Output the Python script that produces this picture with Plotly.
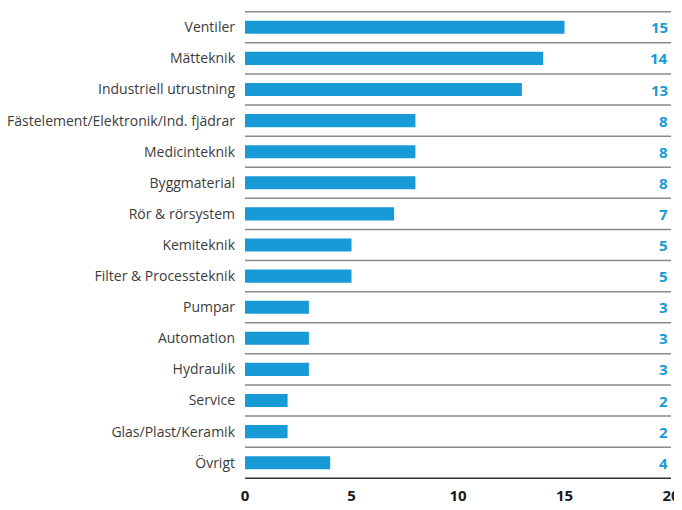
import plotly.graph_objects as go

categories = [
    "Ventiler", "Mätteknik", "Industriell utrustning",
    "Fästelement/Elektronik/Ind. fjädrar", "Medicinteknik", "Byggmaterial",
    "Rör & rörsystem", "Kemiteknik", "Filter & Processteknik", "Pumpar",
    "Automation", "Hydraulik", "Service", "Glas/Plast/Keramik", "Övrigt",
]
values = [15, 14, 13, 8, 8, 8, 7, 5, 5, 3, 3, 3, 2, 2, 4]
x_ticks = [0, 5, 10, 15, 20]

blue = "#189ad6"

fig = go.Figure()
fig.add_trace(go.Bar(
    x=values,
    y=categories,
    orientation="h",
    marker=dict(color=blue, line=dict(width=0)),
    width=0.42,
    hoverinfo="x+y",
))

# value labels at the right edge
for cat, v in zip(categories, values):
    fig.add_annotation(
        x=20, y=cat, xref="x", yref="y",
        text=f"<b>{v}</b>", showarrow=False,
        xanchor="right", xshift=-1,
        font=dict(family="Open Sans", size=15, color=blue),
    )

# separator lines between rows
n = len(categories)
for i in range(n + 1):
    fig.add_shape(
        type="line", xref="x", yref="y",
        x0=0, x1=20, y0=i - 0.5, y1=i - 0.5,
        line=dict(color="#333333" if i == n else "#8a8a8a", width=1.5),
        layer="below",
    )

# the page body adds an 8px margin; the paper runs past the window on the right
fig.update_layout(
    width=690, height=502,
    margin=dict(l=237, r=27, t=3, b=31),
    plot_bgcolor="white",
    paper_bgcolor="white",
    showlegend=False,
    font=dict(family="Open Sans", color="#3c3c3c"),
)
fig.update_xaxes(
    range=[0, 20], tickvals=x_ticks,
    ticktext=[f"<b>{t}</b>" for t in x_ticks],
    showgrid=False, zeroline=False, showline=False,
    tickfont=dict(size=15, color="#1a1a1a"),
    ticklabelstandoff=6,
    ticklabeloverflow="allow",
    automargin=False,
    fixedrange=True,
)
fig.update_yaxes(
    autorange="reversed", range=[n - 0.5, -0.5],
    showgrid=False, zeroline=False, showline=False,
    tickfont=dict(size=14, color="#3c3c3c"),
    ticklabelstandoff=9,
    automargin=False,
    fixedrange=True,
)

# no scrollbars, so the right edge is not eaten
fig.write_html(
    "out.html",
    post_script="document.documentElement.style.overflow='hidden';"
                "document.body.style.overflow='hidden';",
)
